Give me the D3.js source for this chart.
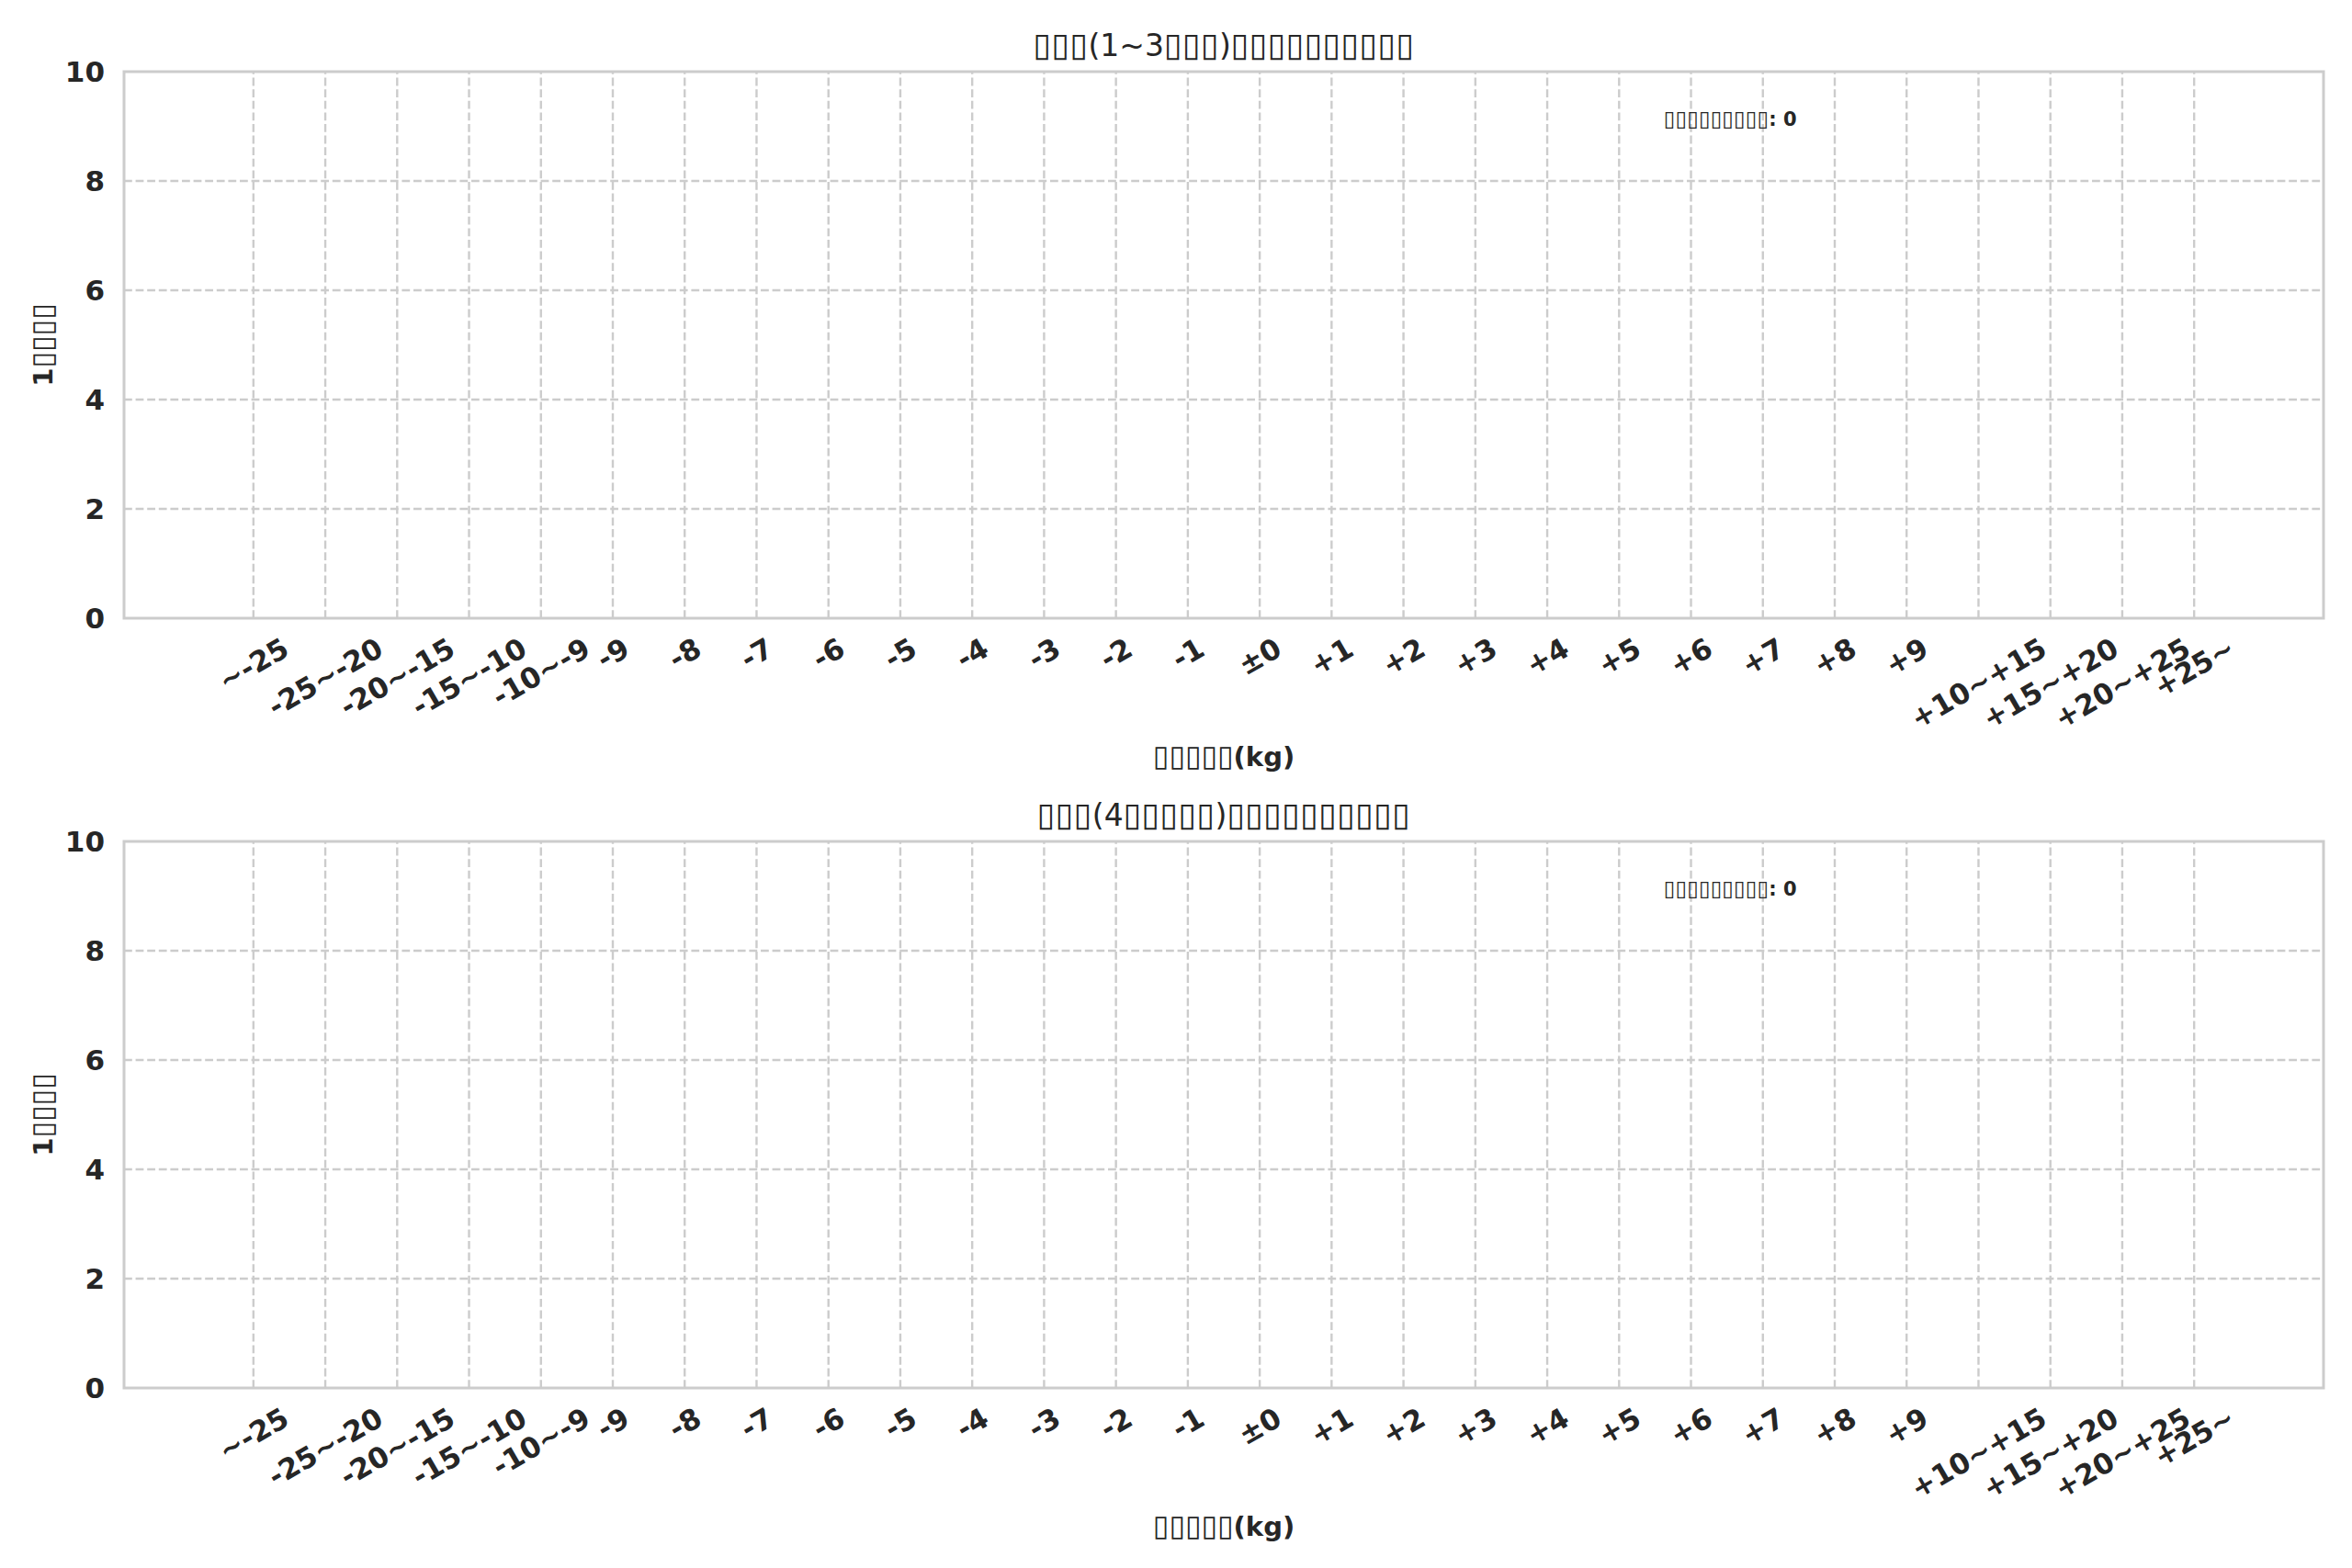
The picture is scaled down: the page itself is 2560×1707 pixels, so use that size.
<!DOCTYPE html>
<html>
<head>
<meta charset="utf-8">
<script src="https://cdn.jsdelivr.net/npm/d3@7"></script>
<style>
  html, body { margin: 0; padding: 0; background: #ffffff; }
  svg { display: block; }
  text { font-family: "DejaVu Sans", sans-serif; fill: #262626; }
</style>
</head>
<body>
<div id="chart"></div>
<script>
// ---- data ----
const categories = ["~-25","-25~-20","-20~-15","-15~-10","-10~-9","-9","-8","-7","-6","-5","-4","-3","-2","-1","±0",
  "+1","+2","+3","+4","+5","+6","+7","+8","+9","+10~+15","+15~+20","+20~+25","+25~"];
const countsEarly = [0,0,0,0,0,0,0,0,0,0,0,0,0,0,0,0,0,0,0,0,0,0,0,0,0,0,0,0];
const countsLate  = [0,0,0,0,0,0,0,0,0,0,0,0,0,0,0,0,0,0,0,0,0,0,0,0,0,0,0,0];
const yTicks = [0, 2, 4, 6, 8, 10];
const titles = ["▯▯▯(1~3▯▯▯)▯▯▯▯▯▯▯▯▯▯", "▯▯▯(4▯▯▯▯▯)▯▯▯▯▯▯▯▯▯▯"];
const yLabel = "1▯▯▯▯";
const xLabel = "▯▯▯▯▯(kg)";
const annotationPrefix = "▯▯▯▯▯▯▯▯▯: ";
const totals = [0, 0];

// ---- layout ----
const W = 2560, H = 1707;
const left = 135, right = 2529;
const tops = [78, 916];
const ph = 595;
const gridColor = "#cccccc";

const svg = d3.select("#chart").append("svg").attr("width", W).attr("height", H);

const x = d3.scalePoint().domain(categories).range([left, right]).padding(1.8);

// write text where missing-glyph boxes are slightly enlarged
function tofuText(sel, str) {
  const runs = str.match(/▯+|[^▯]+/g) || [];
  runs.forEach(r => {
    const t = sel.append("tspan").text(r);
    if (r[0] === "▯") t.attr("font-size", "110%").attr("font-weight", "normal");
  });
  return sel;
}

[countsEarly, countsLate].forEach((series, i) => {
  const top = tops[i], bottom = top + ph;
  const y = d3.scaleLinear().domain([0, 10]).range([bottom, top]);
  const g = svg.append("g");

  // grid
  g.append("g").selectAll("line.v").data(categories).join("line")
    .attr("x1", d => x(d)).attr("x2", d => x(d))
    .attr("y1", bottom).attr("y2", top)
    .attr("stroke", gridColor).attr("stroke-width", 2.4).attr("stroke-dasharray", "8.8,3.8");
  g.append("g").selectAll("line.h").data(yTicks.filter(t => t > 0 && t < 10)).join("line")
    .attr("x1", left).attr("x2", right)
    .attr("y1", d => y(d)).attr("y2", d => y(d))
    .attr("stroke", gridColor).attr("stroke-width", 2.4).attr("stroke-dasharray", "8.8,3.8");

  // bars (all zero)
  const bw = x.step() * 0.8;
  g.append("g").selectAll("rect").data(categories.map((c, k) => ({c, v: series[k]}))).join("rect")
    .attr("x", d => x(d.c) - bw / 2).attr("width", bw)
    .attr("y", d => y(d.v)).attr("height", d => y(0) - y(d.v))
    .attr("fill", "#4c72b0");

  // spines
  g.append("rect").attr("x", left).attr("y", top).attr("width", right - left).attr("height", ph)
    .attr("fill", "none").attr("stroke", "#cccccc").attr("stroke-width", 3);

  // y ticks
  g.append("g").selectAll("text").data(yTicks).join("text")
    .attr("x", left - 21).attr("y", d => y(d) + 0.365 * 31)
    .attr("text-anchor", "end").attr("font-size", 31).attr("font-weight", "bold")
    .text(d => d);

  // x ticks rotated 30
  const fs = 31;
  const xt = g.append("g");
  categories.forEach(c => {
    const t = xt.append("text").attr("font-size", fs).attr("font-weight", "bold")
      .attr("text-anchor", "middle").text(c);
    const w = t.node().getComputedTextLength();
    const h = 1.17 * fs;
    const rh = w * 0.5 + h * 0.866;
    const cy = bottom + 14 + rh / 2;
    t.attr("x", 0).attr("y", 0.35 * fs)
     .attr("transform", `translate(${x(c)},${cy}) rotate(-30)`);
  });

  // title
  tofuText(g.append("text").attr("x", (left + right) / 2).attr("y", top - 17)
    .attr("text-anchor", "middle").attr("font-size", 33), titles[i]);

  // y label
  tofuText(g.append("text").attr("transform", `translate(57,${(top + bottom) / 2}) rotate(-90)`)
    .attr("text-anchor", "middle").attr("font-size", 29).attr("font-weight", "bold"), yLabel);

  // x label
  tofuText(g.append("text").attr("x", (left + right) / 2).attr("y", bottom + 161)
    .attr("text-anchor", "middle").attr("font-size", 29).attr("font-weight", "bold"), xLabel);

  // annotation
  tofuText(g.append("text").attr("x", left + 0.7 * (right - left)).attr("y", top + 0.088 * ph + 0.325 * 21)
    .attr("font-size", 21).attr("font-weight", "bold"), annotationPrefix + totals[i]);
});
</script>
</body>
</html>
